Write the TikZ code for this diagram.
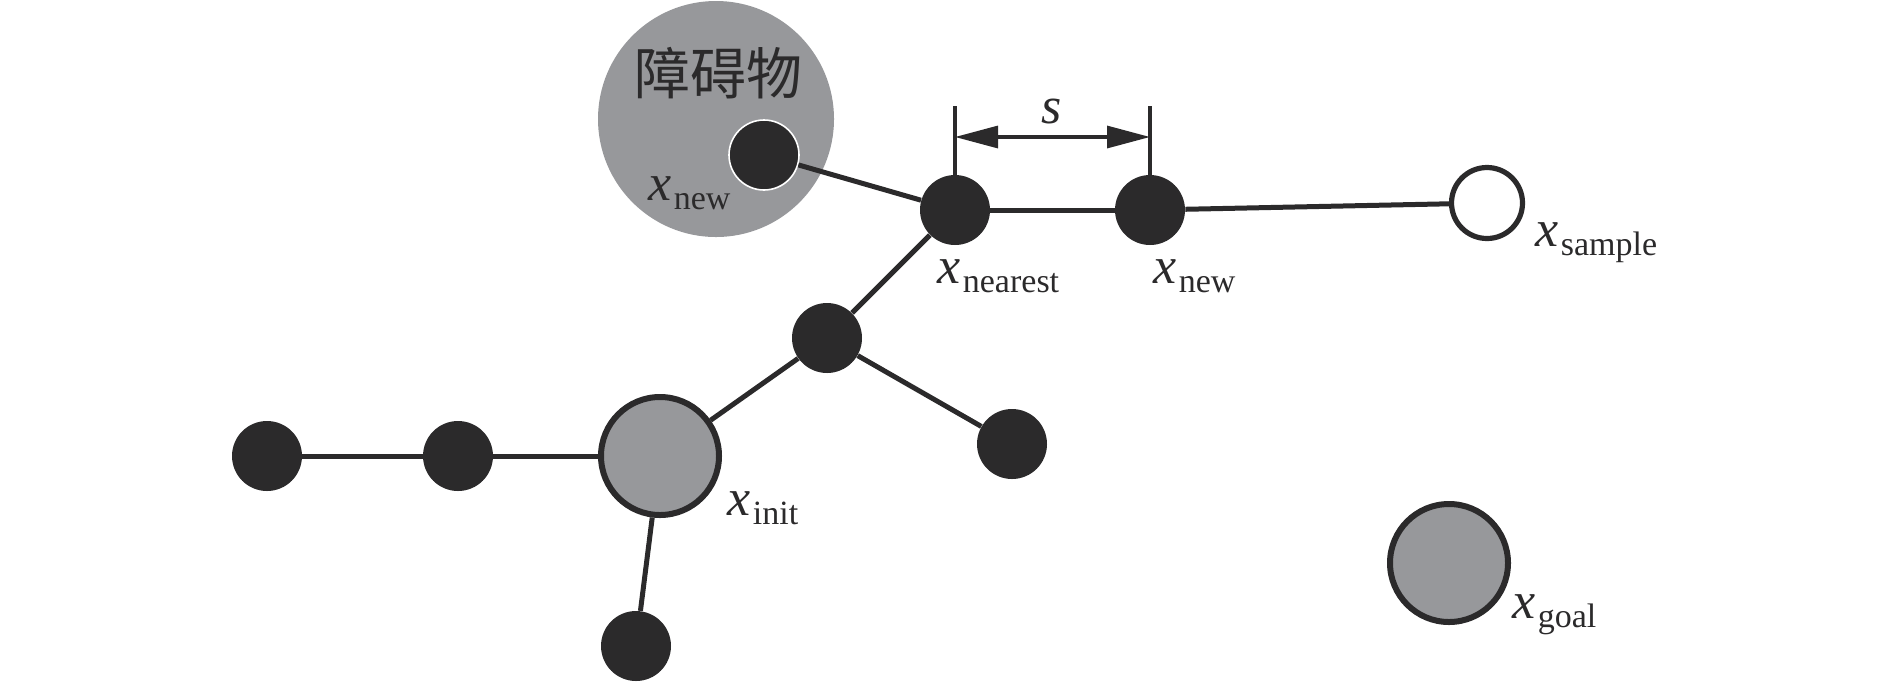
\documentclass[tikz,border=0pt]{standalone}
\usepackage{fontspec}
\setmainfont{Liberation Serif}
\newfontfamily\cjk{Noto Sans CJK SC}
\usetikzlibrary{arrows.meta}
\definecolor{obsgray}{HTML}{97989B}
\definecolor{nodedark}{HTML}{2B2A2B}
\newcommand{\xlab}[1]{{\fontsize{26}{26}\selectfont\itshape x}\kern1.2pt\raisebox{-4.75pt}{\fontsize{17}{17}\selectfont #1}}
\tikzset{
  treenode/.style={circle, fill=nodedark, inner sep=0pt, minimum size=35pt},
  bignode/.style={circle, fill=obsgray, draw=nodedark, line width=3pt, inner sep=0pt, minimum size=59pt},
  samplenode/.style={circle, fill=white, draw=nodedark, line width=2.6pt, inner sep=0pt, minimum size=35.5pt},
  edge/.style={draw=nodedark, line width=2.5pt},
  dimline/.style={draw=nodedark, line width=1.6pt},
  lab/.style={anchor=base west, inner sep=0pt, text=nodedark}
}
\begin{document}
\begin{tikzpicture}[x=0.5pt, y=-0.5pt]
\useasboundingbox (0,0) rectangle (1890,682);
% obstacle
\node[circle, fill=obsgray, inner sep=0pt, minimum size=118pt] (obs) at (716,119) {};
\node[text=nodedark, inner sep=0pt] (obstext) at (718,73) {\cjk\fontsize{28}{28}\selectfont 障碍物};
% tree nodes
\node[treenode, draw=white, line width=0.8pt] (obsnew) at (764,155) {};
\node[treenode] (nearest) at (955,210) {};
\node[treenode] (new) at (1150,210) {};
\node[samplenode] (sample) at (1487,203) {};
\node[treenode] (mid) at (827,338) {};
\node[treenode] (rlow) at (1012,444) {};
\node[bignode] (init) at (660,456) {};
\node[treenode] (left1) at (267,456) {};
\node[treenode] (left2) at (458,456) {};
\node[treenode] (bottom) at (636,646) {};
\node[bignode] (goal) at (1449,563) {};
% edges
\draw[edge] (left1) -- (left2);
\draw[edge] (left2) -- (init);
\draw[edge] (init) -- (bottom);
\draw[edge] (init) -- (mid);
\draw[edge] (mid) -- (rlow);
\draw[edge] (mid) -- (nearest);
\draw[edge] (nearest) -- (obsnew);
\draw[edge] (nearest) -- (new);
\draw[edge] (new) -- (sample);
% step size dimension
\coordinate (dl) at (955,106);
\coordinate (dr) at (1150,106);
\coordinate (al) at (955,137);
\coordinate (ar) at (1150,137);
\draw[dimline] (dl) -- (nearest.north);
\draw[dimline] (dr) -- (new.north);
\draw[dimline, {Triangle[length=21.5pt,width=11pt]}-{Triangle[length=21.5pt,width=11pt]}] (al) -- (ar);
\node[anchor=base, inner sep=0pt, text=nodedark] (s) at (1052,123) {\fontsize{26}{26}\selectfont\itshape s};
% labels
\node[lab] (lobsnew) at (648,200) {\xlab{new}};
\node[lab] (lnearest) at (937,283) {\xlab{nearest}};
\node[lab] (lnew) at (1153,283) {\xlab{new}};
\node[lab] (lsample) at (1535,246) {\xlab{sample}};
\node[lab] (linit) at (727,515) {\xlab{init}};
\node[lab] (lgoal) at (1512,618) {\xlab{goal}};
\end{tikzpicture}
\end{document}
